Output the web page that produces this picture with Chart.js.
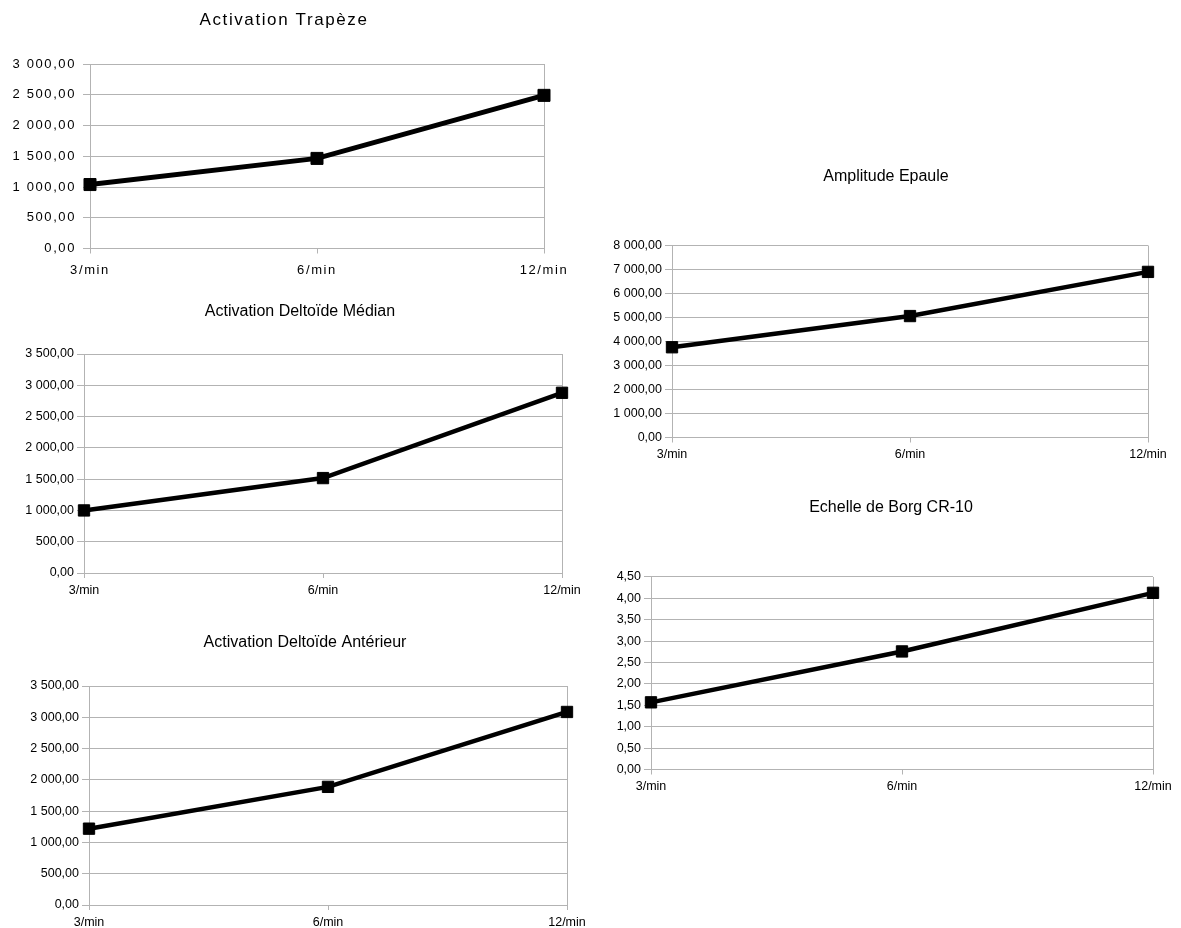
<!DOCTYPE html>
<html>
<head>
<meta charset="utf-8">
<script src="https://cdn.jsdelivr.net/npm/chart.js@4.4.1/dist/chart.umd.min.js"></script>
<style>
  body { margin: 0; background: #fff; width: 1181px; height: 928px; position: relative; overflow: hidden; }
  .box { position: absolute; }
</style>
</head>
<body>
<script>
// data
const labels = ['3/min', '6/min', '12/min'];
const trapeze = [1040, 1465, 2490];
const deltoideMedian = [1000, 1517, 2880];
const deltoideAnterieur = [1220, 1888, 3085];
const amplitudeEpaule = [3760, 5060, 6900];
const borg = [1.57, 2.76, 4.13];

const GRID = '#b3b3b3';
Chart.defaults.font.family = '"Liberation Sans", Arial, sans-serif';
Chart.defaults.color = '#000';

function frNumber(v) {
    const parts = Math.abs(v).toFixed(2).split('.');
    return parts[0].replace(/\B(?=(\d{3})+(?!\d))/g, ' ') + ',' + parts[1];
}

function makeChart(o) {
    const lh = o.titleSize * 1.2;
    // canvas spans [left, 2*cx - left] so the full-width title is centred on cx
    const width = 2 * (o.cx - o.left);
    const div = document.createElement('div');
    div.className = 'box';
    div.style.left = o.left + 'px';
    div.style.top = o.top + 'px';
    div.style.width = width + 'px';
    div.style.height = (o.bottom - o.top) + 'px';
    const canvas = document.createElement('canvas');
    div.appendChild(canvas);
    document.body.appendChild(div);

    const padTop = o.cy - o.top - lh / 2;
    const padRight = o.left + width - o.x1;

    return new Chart(canvas, {
        type: 'line',
        data: {
            labels: labels,
            datasets: [{
                data: o.values,
                borderColor: '#000',
                backgroundColor: '#000',
                borderWidth: o.lineWidth,
                pointStyle: 'rect',
                pointRadius: o.pointRadius,
                pointBorderWidth: 1,
                tension: 0,
                clip: false
            }]
        },
        options: {
            responsive: true,
            maintainAspectRatio: false,
            animation: false,
            layout: { padding: 0 },
            plugins: {
                legend: { display: false },
                tooltip: { enabled: false },
                title: {
                    display: true,
                    text: o.title,
                    color: '#000',
                    font: { size: o.titleSize, weight: 'normal' },
                    padding: { top: padTop, bottom: o.y0 - o.top - padTop - lh }
                }
            },
            scales: {
                x: {
                    grid: {
                        color: (c) => c.index === labels.length - 1 ? GRID : 'rgba(0,0,0,0)',
                        tickColor: GRID,
                        tickLength: 5
                    },
                    border: { color: GRID },
                    ticks: {
                        color: '#000',
                        font: { size: o.tickSize },
                        padding: o.padX,
                        maxRotation: 0,
                        autoSkip: false
                    },
                    afterFit: (s) => {
                        s.height = o.bottom - o.y1;
                        s.paddingRight = padRight;
                    }
                },
                y: {
                    min: 0,
                    max: o.max,
                    grid: { color: GRID, tickLength: 7 },
                    border: { color: GRID },
                    ticks: {
                        stepSize: o.step,
                        color: '#000',
                        font: { size: o.tickSize },
                        padding: o.padY,
                        callback: (v) => frNumber(v)
                    },
                    afterFit: (s) => { s.width = o.x0 - o.left; }
                }
            }
        },
        plugins: [{
            id: 'spacing',
            beforeUpdate(ch) { ch.ctx.letterSpacing = o.ls; },
            beforeDraw(ch) { ch.ctx.letterSpacing = o.ls; }
        }]
    });
}

makeChart({
    title: 'Activation Trapèze', values: trapeze, max: 3000, step: 500,
    left: 0, x0: 90, x1: 544, y0: 64, y1: 248.5, cx: 284, cy: 20, top: 0, bottom: 285,
    titleSize: 17, tickSize: 13, ls: '1.6px', padX: 9, padY: 7, pointRadius: 8.5, lineWidth: 5
});
makeChart({
    title: 'Activation Deltoïde Médian', values: deltoideMedian, max: 3500, step: 500,
    left: 0, x0: 84, x1: 562, y0: 354, y1: 573, cx: 300, cy: 311.5, top: 290, bottom: 605,
    titleSize: 16, tickSize: 12.5, ls: '0px', padX: 5, padY: 3, pointRadius: 8, lineWidth: 4.5
});
makeChart({
    title: 'Activation Deltoïde Antérieur', values: deltoideAnterieur, max: 3500, step: 500,
    left: 0, x0: 89, x1: 567, y0: 686, y1: 905, cx: 305, cy: 643, top: 620, bottom: 928,
    titleSize: 16, tickSize: 12.5, ls: '0px', padX: 5, padY: 3, pointRadius: 8, lineWidth: 4.5
});
makeChart({
    title: 'Amplitude Epaule', values: amplitudeEpaule, max: 8000, step: 1000,
    left: 595, x0: 672, x1: 1148, y0: 245.5, y1: 437.5, cx: 886, cy: 176.5, top: 150, bottom: 470,
    titleSize: 16, tickSize: 12.5, ls: '0px', padX: 5, padY: 3, pointRadius: 8, lineWidth: 4.5
});
makeChart({
    title: 'Echelle de Borg CR-10', values: borg, max: 4.5, step: 0.5,
    left: 595, x0: 651, x1: 1153, y0: 577, y1: 769.5, cx: 891, cy: 508, top: 480, bottom: 800,
    titleSize: 16, tickSize: 12.5, ls: '0px', padX: 5, padY: 3, pointRadius: 8, lineWidth: 4.5
});
</script>
</body>
</html>
